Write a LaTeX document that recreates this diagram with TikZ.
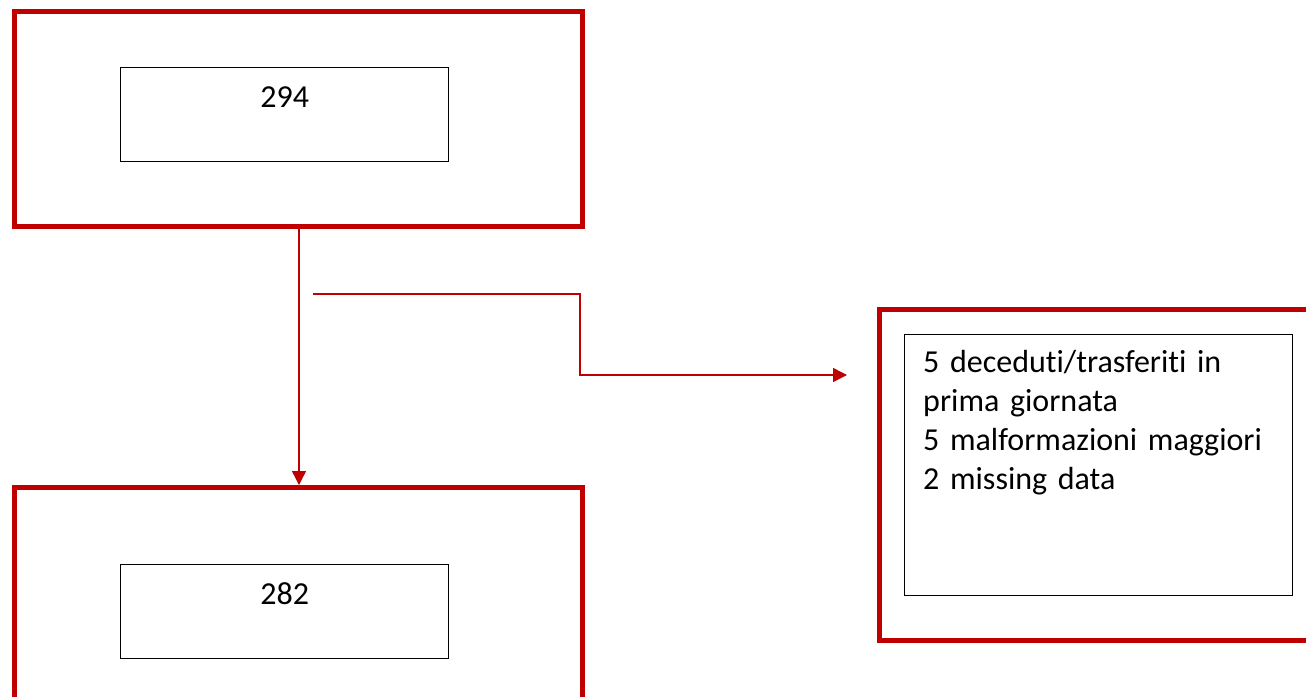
\documentclass[tikz,border=0pt]{standalone}
\usepackage{fontspec}
\setmainfont[Ligatures=NoCommon]{Carlito}
\usetikzlibrary{arrows.meta}
\definecolor{boxred}{HTML}{C00000}
\tikzset{
  outerbox/.style={draw=boxred, line width=5pt, rectangle, inner sep=0pt, anchor=north west},
  innerbox/.style={draw=black, line width=1.3pt, rectangle, inner sep=0pt, anchor=north west},
  numbox/.style={innerbox, text width=#1, align=center, text height=40pt, text depth=54pt},
  conn/.style={draw=boxred, line width=1.5pt, -{Triangle[length=14pt,width=14pt]}},
  txt/.style={font=\fontsize{32}{39}\selectfont}
}
\begin{document}
\begin{tikzpicture}[x=1pt,y=-1pt]
\useasboundingbox (0,0) rectangle (1306,696);
\clip (0,0) rectangle (1306,696);
\fill[white] (0,0) rectangle (1306,696);
% outer boxes
\node[outerbox, minimum width=568pt, minimum height=215pt] (topout) at (12,9) {};
\node[outerbox, minimum width=568pt, minimum height=240pt] (botout) at (12,485) {};
\node[outerbox, minimum width=450pt, minimum height=331pt] (rightout) at (877,307) {};
% inner boxes
\node[numbox=328pt, txt] (topin) at (120,67) {294};
\node[numbox=328pt, txt] (botin) at (120,564) {282};
\node[innerbox, minimum width=388pt, minimum height=261pt] (rightin) at (904,334) {};
\node[txt, anchor=north west, inner sep=0pt, align=left, text width=370pt, text height=26pt] (righttxt) at ([xshift=19pt,yshift=-12pt]rightin.north west)
  {5 deceduti/trasferiti in\\prima giornata\\5 malformazioni maggiori\\2 missing data};
% connectors
\coordinate (vx) at (299,0);
\draw[conn] (topout.south -| vx) -- (botout.north -| vx);
\coordinate (exstart) at (313,294);
\coordinate (exend) at (847,375);
\draw[conn] (exstart) -- (580,294) -- (580,375) -- (exend);
\end{tikzpicture}
\end{document}
